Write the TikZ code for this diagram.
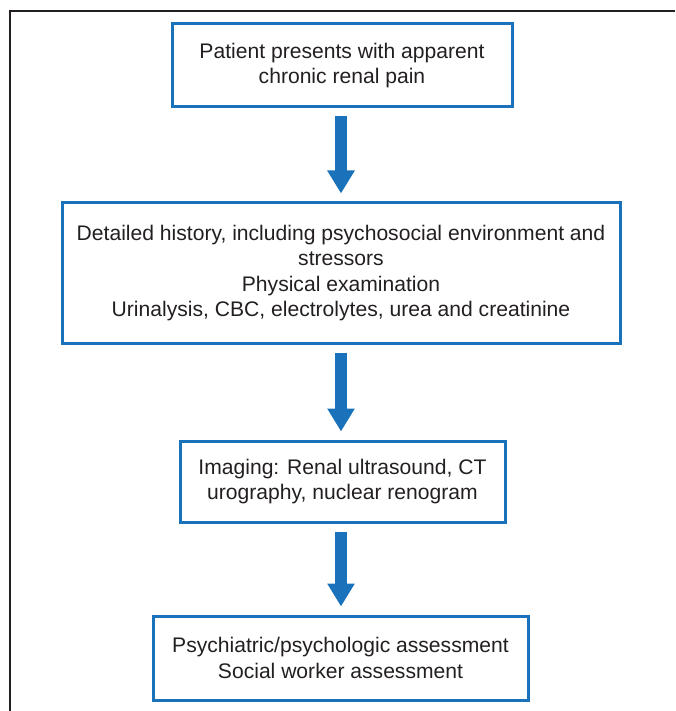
\documentclass[tikz,border=0pt]{standalone}
\usepackage{fontspec}
\setmainfont{Liberation Sans}
\usetikzlibrary{arrows.meta}

\definecolor{boxblue}{RGB}{25,114,186}
\definecolor{textgray}{RGB}{35,31,32}

\tikzset{
    stepbox/.style={draw=boxblue, line width=3pt, align=center, text=textgray,
        font=\fontsize{21.1}{25.5}\selectfont, inner sep=0pt},
    flowarrow/.style={draw=boxblue, line width=12pt,
        -{Triangle[width=26pt,length=23pt]}, shorten <=8pt, shorten >=8pt}
}

\begin{document}
\begin{tikzpicture}[x=1pt, y=-1pt]
    \useasboundingbox (0,0) rectangle (675,711);

    \draw[line width=1.4pt, textgray] (675,11) -- (10,11) -- (10,711);

    \node[stepbox, minimum width=340pt, minimum height=83pt] (patient) at (342,65.5)
        {Patient presents with apparent\\chronic renal pain};
    \node[stepbox, minimum width=558pt, minimum height=140pt] (history) at (341,273)
        {Detailed history, including psychosocial environment and\\stressors\\Physical examination\\Urinalysis, CBC, electrolytes, urea and creatinine};
    \node[stepbox, minimum width=325pt, minimum height=81pt] (imaging) at (342.5,481.5)
        {Imaging: Renal ultrasound, CT\\urography, nuclear renogram};
    \node[stepbox, minimum width=375pt, minimum height=84pt] (assess) at (340.5,658)
        {Psychiatric/psychologic assessment\\Social worker assessment};

    \draw[flowarrow] (patient.south -| 341,0) -- (history.north -| 341,0);
    \draw[flowarrow] (history.south -| 341,0) -- (imaging.north -| 341,0);
    \draw[flowarrow] (imaging.south -| 341,0) -- (assess.north -| 341,0);
\end{tikzpicture}
\end{document}
